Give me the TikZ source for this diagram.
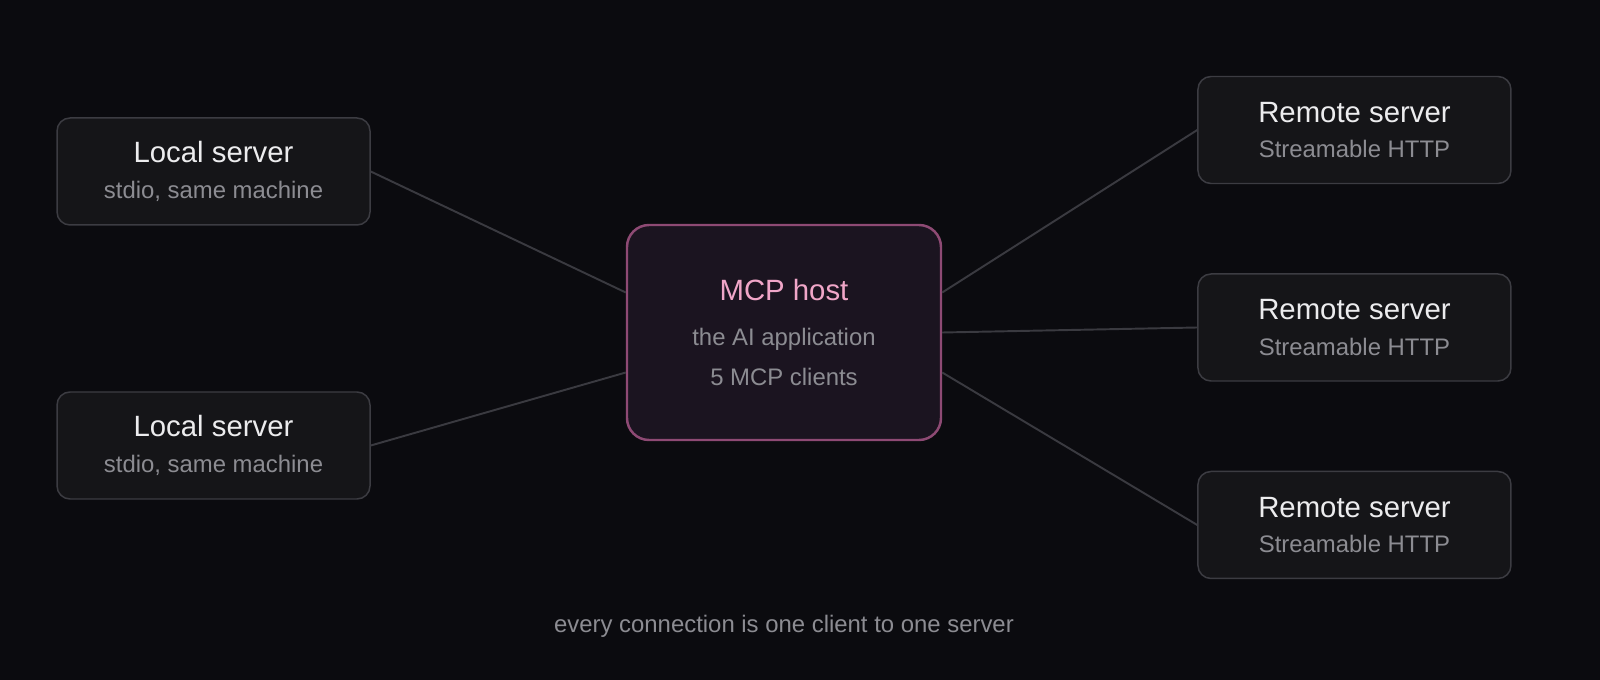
\documentclass[tikz,border=0pt]{standalone}
\usepackage{fontspec}
\setmainfont{Liberation Sans}
\usepackage{xcolor}
\usepackage{tikz}
\usetikzlibrary{arrows.meta,calc}
\usetikzlibrary{positioning,shapes}

\definecolor{bgc}{HTML}{0B0B0F}
\definecolor{srvfill}{HTML}{151518}
\definecolor{srvline}{HTML}{3C3C42}
\definecolor{hostfill}{HTML}{1B1420}
\definecolor{hostline}{HTML}{8E4A74}
\definecolor{hosttext}{HTML}{F0A6C8}
\definecolor{titletext}{HTML}{ECECEE}
\definecolor{subtext}{HTML}{8C8C92}
\definecolor{wire}{HTML}{3A3A40}

\newcommand{\ttl}[1]{{\fontsize{16.7pt}{20pt}\selectfont #1}}
\newcommand{\subt}[1]{{\color{subtext}\fontsize{13.6pt}{16pt}\selectfont #1}}

\tikzset{
    server/.style={draw=srvline, fill=srvfill, line width=0.85pt, rounded corners=0.26cm,
        minimum width=6.26cm, minimum height=2.14cm, align=center, text=titletext},
    host/.style={draw=hostline, fill=hostfill, line width=1.4pt, rounded corners=0.44cm,
        minimum width=6.28cm, minimum height=4.3cm, align=center, text=hosttext},
    wire/.style={draw=wire, line width=1.1pt}
}

\begin{document}
\begin{tikzpicture}
    % Background and frame
    \fill[bgc] (-15.68,-6.95) rectangle (16.32,6.65);
    \useasboundingbox (-15.68,-6.95) rectangle (16.32,6.65);

    % Nodes
    \node[host] (host) at (0,0) {\ttl{MCP host}\\[0.48cm]\subt{the AI application}\\[0.32cm]\subt{5 MCP clients}};
    \node[server, right=5.1cm of host, yshift=0.1cm] (remote2) {\ttl{Remote server}\\[0.29cm]\subt{Streamable HTTP}};
    \node[server, above=1.78cm of remote2] (remote1) {\ttl{Remote server}\\[0.29cm]\subt{Streamable HTTP}};
    \node[server, below=1.78cm of remote2] (remote3) {\ttl{Remote server}\\[0.29cm]\subt{Streamable HTTP}};
    \node[server, left=5.1cm of host, yshift=3.22cm] (local1) {\ttl{Local server}\\[0.29cm]\subt{stdio, same machine}};
    \node[server, left=5.1cm of host, yshift=-2.26cm] (local2) {\ttl{Local server}\\[0.29cm]\subt{stdio, same machine}};

    % Connections
    \draw[wire] (local1.east) -- ([yshift=0.8cm]host.west);
    \draw[wire] (local2.east) -- ([yshift=-0.8cm]host.west);
    \draw[wire] ([yshift=0.8cm]host.east) -- (remote1.west);
    \draw[wire] (host.east) -- (remote2.west);
    \draw[wire] ([yshift=-0.8cm]host.east) -- (remote3.west);

    % Caption
    \node (caption) at ($(host.south)+(0,-3.7)$) {\subt{every connection is one client to one server}};
\end{tikzpicture}
\end{document}
